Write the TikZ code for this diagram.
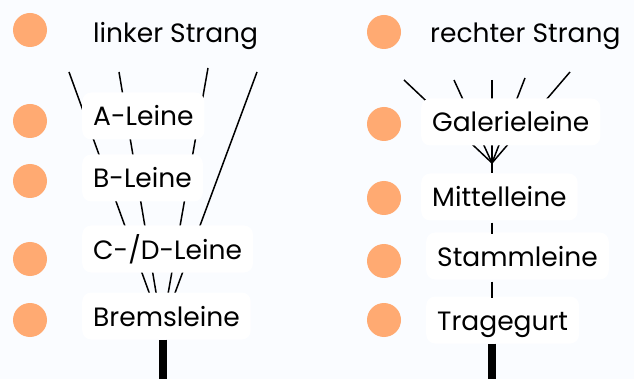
\documentclass[tikz,border=0pt]{standalone}
\usepackage{fontspec}
\setmainfont{Poppins}
\definecolor{grund}{HTML}{FAFCFF}
\definecolor{pfirsich}{HTML}{FFAA72}
\tikzset{
  etikett/.style={anchor=west,inner xsep=11pt,inner ysep=0pt,text height=21pt,text depth=1pt,font=\fontsize{26.5}{30}\selectfont},
  leine/.style={etikett,fill=white,rounded corners=9pt,minimum height=47pt},
  punkt/.style={circle,fill=pfirsich,minimum size=34pt,inner sep=0pt},
  faden/.style={line width=1.5pt},
  gurt/.style={line width=8pt}
}
\begin{document}
\begin{tikzpicture}[x=1pt,y=-1pt]
\path[use as bounding box,fill=grund] (0,0) rectangle (634,379);
% Punkte links und rechts
\foreach \n/\y in {0/30,1/121,2/181,3/259,4/320}
  \node[punkt] (pl\n) at (30,\y) {};
\foreach \n/\y in {0/32,1/124,2/198,3/261,4/320}
  \node[punkt] (pr\n) at (384,\y) {};
% Enden der Leinen
\coordinate (ol1) at (69,72);
\coordinate (ol2) at (119,72);
\coordinate (ol3) at (208,68);
\coordinate (ol4) at (257,72);
\coordinate (kl) at (162,328);
\coordinate (or1) at (404,80);
\coordinate (or2) at (454,80);
\coordinate (or3) at (492,80);
\coordinate (or4) at (525,78);
\coordinate (or5) at (570,72);
\coordinate (kr) at (492,163);
\foreach \i in {1,...,4} \draw[faden] (ol\i) -- (kl);
\foreach \i in {1,...,5} \draw[faden] (or\i) -- (kr);
% linker Strang
\node[etikett] (strl) at (82,33) {linker Strang};
\node[leine] (aleine) at (82,116) {A-Leine};
\node[leine] (bleine) at (82,178) {B-Leine};
\node[leine] (cdleine) at (82,249) {C-/D-Leine};
\node[leine] (brems) at (82,316) {Bremsleine};
\coordinate (fussl) at (163,379);
\draw[gurt] (fussl |- brems.south) -- (fussl);
% rechter Strang
\node[etikett] (strr) at (419,33) {rechter Strang};
\node[leine] (galerie) at (421,122) {Galerieleine};
\node[leine] (mittel) at (421,197) {Mittelleine};
\node[leine] (stamm) at (426,256) {Stammleine};
\node[leine] (trage) at (426,320) {Tragegurt};
\coordinate (fussr) at (492,379);
\draw[faden] (kr) -- (kr |- mittel.north);
\draw[faden] (mittel.south -| kr) ++(0,2) -- ([yshift=-2pt]stamm.north -| kr);
\draw[faden] (stamm.south -| kr) ++(0,2) -- ([yshift=-2pt]trage.north -| kr);
\draw[gurt] (fussr |- trage.south) -- (fussr);
\end{tikzpicture}
\end{document}
